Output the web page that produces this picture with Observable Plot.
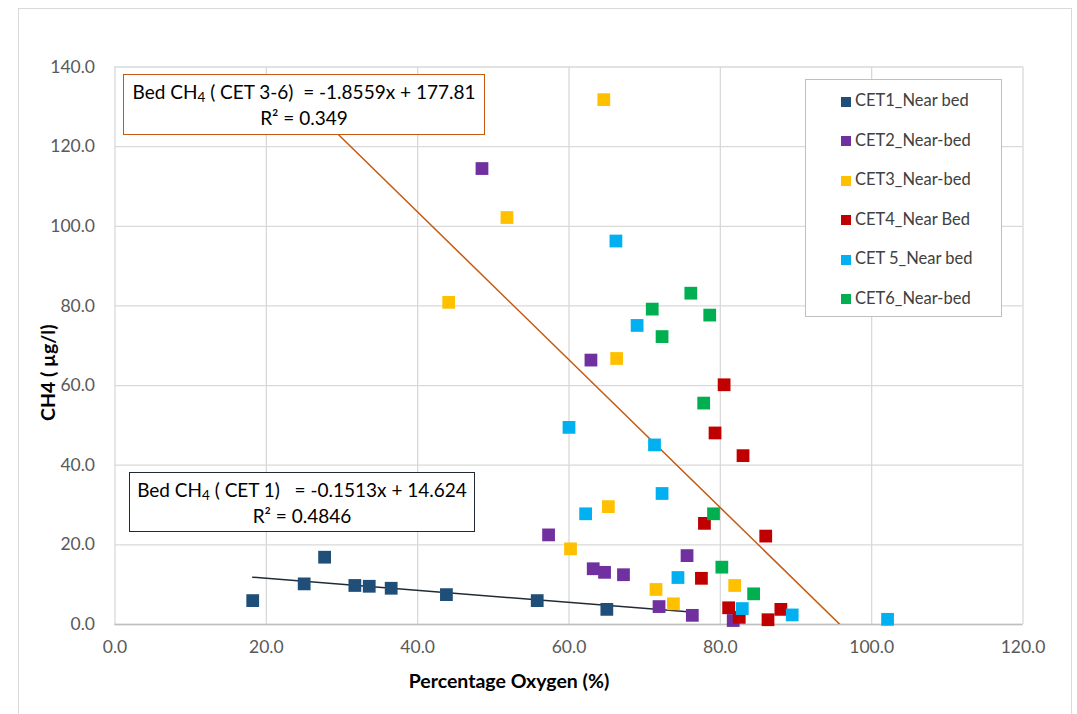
<!DOCTYPE html>
<html>
<head>
<meta charset="utf-8">
<script src="https://cdn.jsdelivr.net/npm/d3@7"></script>
<script src="https://cdn.jsdelivr.net/npm/@observablehq/plot@0.6"></script>
<style>
  html, body { margin: 0; padding: 0; background: #fff; }
  #wrap { position: relative; width: 1077px; height: 714px; overflow: hidden; font-family: Lato, "Open Sans", sans-serif; }
  #frame { position: absolute; left: 18px; top: 8px; width: 1052px; height: 760px; border: 1px solid #D9D9D9; pointer-events: none; }
  .eqbox { position: absolute; background: #fff; text-align: center; color: #000; font-size: 19px; line-height: 26px; white-space: pre; box-sizing: border-box; }
  .eqbox sub { font-size: 13.5px; vertical-align: -3px; line-height: 0; }
  #legend { position: absolute; left: 805px; top: 79px; width: 197px; height: 238px; box-sizing: border-box; border: 1px solid #BFBFBF; background: #fff; }
  .li { position: absolute; left: 35px; font-size: 16.5px; color: #404040; white-space: nowrap; height: 20px; line-height: 20px; }
  .li span.sw { display: inline-block; width: 10px; height: 10px; margin-right: 4px; vertical-align: -0.5px; }
</style>
</head>
<body>
<div id="wrap"></div>
<script>
const seriesNames = ["CET1_Near bed", "CET2_Near-bed", "CET3_Near-bed", "CET4_Near Bed", "CET 5_Near bed", "CET6_Near-bed"];
const seriesColors = ["#1F4E79", "#7030A0", "#FFC000", "#C00000", "#00B0F0", "#00B050"];

const cet1X = [18.2, 25.0, 27.7, 31.7, 33.6, 36.5, 43.8, 55.8, 65.0];
const cet1Y = [6.0, 10.2, 16.9, 9.8, 9.6, 9.1, 7.5, 6.0, 3.8];
const cet2X = [48.5, 62.9, 57.3, 63.2, 64.7, 67.2, 75.6, 71.9, 76.3, 81.7];
const cet2Y = [114.5, 66.4, 22.5, 14.0, 13.1, 12.5, 17.3, 4.5, 2.3, 1.0];
const cet3X = [64.6, 51.8, 44.1, 66.3, 65.2, 60.2, 71.5, 73.8, 81.9];
const cet3Y = [131.8, 102.2, 80.9, 66.8, 29.6, 19.0, 8.8, 5.2, 9.8];
const cet4X = [80.5, 79.3, 83.0, 77.9, 86.0, 77.5, 81.1, 82.5, 86.3, 88.0];
const cet4Y = [60.2, 48.1, 42.4, 25.4, 22.2, 11.6, 4.2, 1.8, 1.2, 3.8];
const cet5X = [66.2, 69.0, 60.0, 71.3, 72.3, 62.2, 74.4, 82.9, 89.5, 102.1];
const cet5Y = [96.3, 75.1, 49.5, 45.1, 32.9, 27.8, 11.8, 4.0, 2.4, 1.3];
const cet6X = [76.1, 71.0, 78.6, 72.3, 77.8, 79.1, 80.2, 84.4];
const cet6Y = [83.2, 79.2, 77.7, 72.3, 55.6, 27.8, 14.4, 7.7];

const xTicks = [0, 20, 40, 60, 80, 100, 120];
const yTicks = [0, 20, 40, 60, 80, 100, 120, 140];

// trendlines: slope, intercept, x range
const trendNames = ["CET 1", "CET 3-6"];
const trendSlope = [-0.1513, -1.8559];
const trendIntercept = [14.624, 177.81];
const trendXStart = [18.2, 26];
const trendXEnd = [76.1, 102.1];
const trendColors = ["#222A35", "#C55A11"];
const trendR2 = ["0.4846", "0.349"];

const allX = [cet1X, cet2X, cet3X, cet4X, cet5X, cet6X];
const allY = [cet1Y, cet2Y, cet3Y, cet4Y, cet5Y, cet6Y];
const points = [];
allX.forEach((xs, i) => xs.forEach((x, j) => points.push({series: seriesNames[i], x, y: allY[i][j]})));

const trendPts = [];
trendNames.forEach((n, i) => {
  [trendXStart[i], trendXEnd[i]].forEach(x => trendPts.push({name: n, x, y: trendSlope[i] * x + trendIntercept[i]}));
});

const fmt = d3.format(".1f");

const plot = Plot.plot({
  width: 1077,
  height: 714,
  marginLeft: 114.5,
  marginRight: 54.5,
  marginTop: 66.5,
  marginBottom: 90,
  style: {fontFamily: "Lato, 'Open Sans', sans-serif", fontSize: "17.5px", color: "#595959", background: "transparent"},
  x: {domain: [0, 120], ticks: xTicks},
  y: {domain: [0, 140], ticks: yTicks},
  color: {domain: seriesNames, range: seriesColors},
  marks: [
    Plot.gridX(xTicks, {stroke: "#D9D9D9", strokeOpacity: 1, strokeWidth: 1.3}),
    Plot.gridY(yTicks, {stroke: "#D9D9D9", strokeOpacity: 1, strokeWidth: 1.3}),
    Plot.ruleY([0], {stroke: "#BFBFBF", strokeWidth: 1.5}),
    Plot.axisX(xTicks, {tickSize: 0, tickPadding: 16, tickFormat: fmt, label: null, fill: "#595959", fontSize: 17.5}),
    Plot.axisY(yTicks, {tickSize: 0, tickPadding: 20, tickFormat: fmt, label: null, fill: "#595959", fontSize: 17.5}),
    Plot.line(trendPts, {x: "x", y: "y", z: "name", stroke: d => trendColors[trendNames.indexOf(d.name)], strokeWidth: 1.5, clip: true}),
    Plot.dot(points, {x: "x", y: "y", fill: "series", symbol: "square", r: 7.2}),
    Plot.text(["Percentage Oxygen (%)"], {frameAnchor: "bottom", textAnchor: "middle", dx: -60, dy: 63, fontWeight: "bold", fontSize: 19.5, fill: "#000"}),
    Plot.text(["CH4 ( µg/l)"], {frameAnchor: "left", textAnchor: "middle", rotate: -90, dx: -66, dy: 27, fontWeight: "bold", fontSize: 19.5, fill: "#000"})
  ]
});

const wrap = document.getElementById("wrap");
wrap.appendChild(plot);

const frame = document.createElement("div");
frame.id = "frame";
wrap.appendChild(frame);

// equation boxes
function eqBox(i, left, top, w, h, label, pad) {
  const b = document.createElement("div");
  b.className = "eqbox";
  Object.assign(b.style, {left: left + "px", top: top + "px", width: w + "px", height: h + "px", border: "1.5px solid " + trendColors[i], paddingTop: pad + "px"});
  const sign = trendIntercept[i] >= 0 ? "+" : "-";
  b.innerHTML = `Bed CH<sub>4</sub> ( ${label})${i === 0 ? "   " : "  "}= ${trendSlope[i]}x ${sign} ${Math.abs(trendIntercept[i])}<br>R² = ${trendR2[i]}`;
  wrap.appendChild(b);
}
eqBox(1, 123, 74, 362, 61, trendNames[1], 4);
eqBox(0, 129, 472, 346, 60, trendNames[0], 4);

// legend
const lg = document.createElement("div");
lg.id = "legend";
seriesNames.forEach((n, i) => {
  const it = document.createElement("div");
  it.className = "li";
  it.style.top = (10 + i * 39.5) + "px";
  it.innerHTML = `<span class="sw" style="background:${seriesColors[i]}"></span>${n}`;
  lg.appendChild(it);
});
wrap.appendChild(lg);
</script>
</body>
</html>
